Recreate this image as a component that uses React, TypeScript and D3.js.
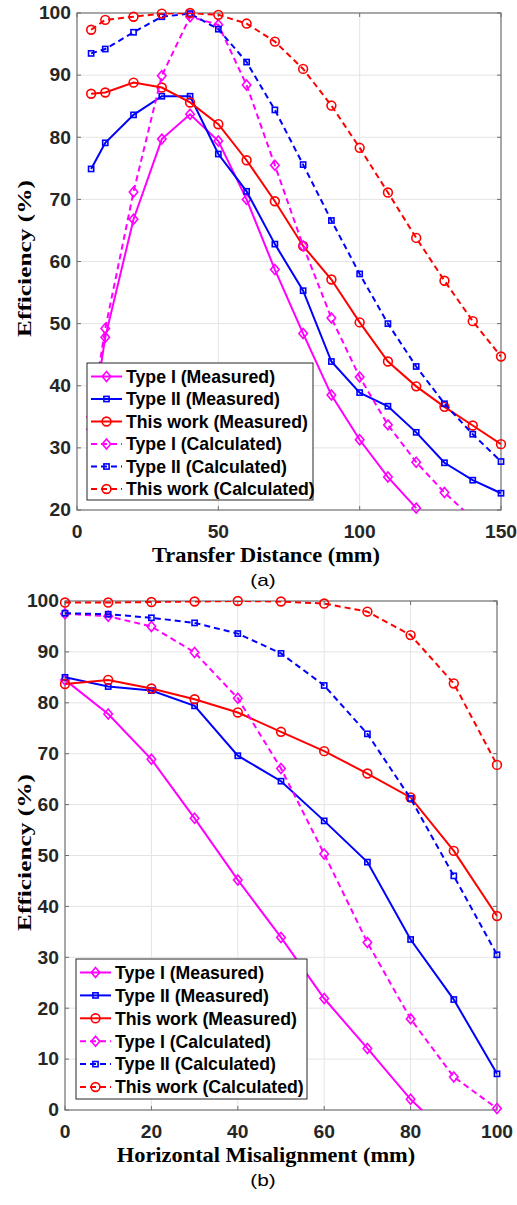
import React from "react";
import * as d3 from "d3";

// ---- chart (a): efficiency vs transfer distance ----
const distX = [5, 10, 20, 30, 40, 50, 60, 70, 80, 90, 100, 110, 120, 130, 140, 150];
const distType1Meas = [33, 47.8, 66.8, 79.7, 83.7, 79.4, 70.0, 58.7, 48.4, 38.5, 31.3, 25.3, 20.3];
const distType2Meas = [74.9, 79.1, 83.6, 86.6, 86.6, 77.3, 71.3, 62.8, 55.3, 43.9, 38.9, 36.7, 32.5, 27.6, 24.8, 22.7];
const distWorkMeas = [87.0, 87.2, 88.8, 88.0, 85.6, 82.1, 76.3, 69.7, 62.5, 57.1, 50.2, 43.9, 39.9, 36.6, 33.6, 30.6];
const distType1Calc = [35, 49.2, 71.2, 89.9, 99.4, 98.1, 88.4, 75.5, 62.5, 50.9, 41.4, 33.7, 27.7, 22.8, 18.6];
const distType2Calc = [93.5, 94.2, 96.9, 99.4, 99.9, 97.4, 92.1, 84.4, 75.6, 66.6, 58.0, 50.0, 43.1, 37.1, 32.2, 27.8];
const distWorkCalc = [97.3, 98.9, 99.4, 99.9, 100, 99.7, 98.3, 95.4, 91.0, 85.1, 78.3, 71.1, 63.8, 56.9, 50.4, 44.7];
const distXTicks = [0, 50, 100, 150];
const distYTicks = [20, 30, 40, 50, 60, 70, 80, 90, 100];

// ---- chart (b): efficiency vs horizontal misalignment ----
const misX = [0, 10, 20, 30, 40, 50, 60, 70, 80, 90, 100];
const misType1Meas = [84.5, 77.8, 68.9, 57.3, 45.2, 33.9, 21.9, 12.1, 2.1, -6];
const misType2Meas = [85.0, 83.2, 82.4, 79.4, 69.6, 64.6, 56.8, 48.7, 33.5, 21.7, 7.1];
const misWorkMeas = [83.7, 84.5, 82.8, 80.7, 78.1, 74.3, 70.5, 66.1, 61.4, 50.9, 38.1];
const misType1Calc = [97.5, 97.0, 95.0, 89.9, 80.9, 67.1, 50.3, 32.9, 17.9, 6.5, 0.3];
const misType2Calc = [97.6, 97.4, 96.7, 95.7, 93.6, 89.7, 83.4, 73.9, 61.2, 46.0, 30.5];
const misWorkCalc = [99.7, 99.7, 99.8, 99.9, 100, 99.9, 99.5, 97.9, 93.3, 83.8, 67.8];
const misXTicks = [0, 20, 40, 60, 80, 100];
const misYTicks = [0, 10, 20, 30, 40, 50, 60, 70, 80, 90, 100];

const seriesNames = [
  "Type I (Measured)",
  "Type II (Measured)",
  "This work (Measured)",
  "Type I (Calculated)",
  "Type II (Calculated)",
  "This work (Calculated)",
];
const seriesColors = ["#ff00ff", "#0000ff", "#ff0000", "#ff00ff", "#0000ff", "#ff0000"];
const seriesMarkers = ["diamond", "square", "circle", "diamond", "square", "circle"];
const seriesDashed = [false, false, false, true, true, true];

const sansFont = "'Liberation Sans', Arial, sans-serif";
const serifFont = "'Liberation Serif', 'Times New Roman', serif";
const axisColor = "#6e6e6e";
const gridColor = "#e4e4e4";
const tickStretch = 1.1; // the figure's text is wider than plain Arial/Times

const Marker = ({ type, x, y, color }) => {
  if (type === "diamond") {
    const r = 5;
    return (
      <path
        d={`M${x},${y - r}L${x + r * 0.85},${y}L${x},${y + r}L${x - r * 0.85},${y}Z`}
        fill="none"
        stroke={color}
        strokeWidth={1.6}
      />
    );
  }
  if (type === "square") {
    const s = 2.6;
    return <rect x={x - s} y={y - s} width={s * 2} height={s * 2} fill="none" stroke={color} strokeWidth={1.6} />;
  }
  return <circle cx={x} cy={y} r={4.4} fill="none" stroke={color} strokeWidth={1.6} />;
};

const Panel = ({ id, box, xDomain, yDomain, xs, series, xTicks, yTicks, xTitle, caption, legend }) => {
  const x = d3.scaleLinear().domain(xDomain).range([box.left, box.right]);
  const y = d3.scaleLinear().domain(yDomain).range([box.bottom, box.top]);
  const line = d3
    .line<number>()
    .x((_, i) => x(xs[i]))
    .y((d) => y(d));
  const midY = (box.top + box.bottom) / 2;

  return (
    <g>
      <defs>
        <clipPath id={id}>
          <rect x={box.left} y={box.top} width={box.right - box.left} height={box.bottom - box.top} />
        </clipPath>
      </defs>
      <rect x={box.left} y={box.top} width={box.right - box.left} height={box.bottom - box.top} fill="#fff" />

      {/* grid */}
      {xTicks.slice(1, -1).map((t) => (
        <line key={"gx" + t} x1={x(t)} x2={x(t)} y1={box.top} y2={box.bottom} stroke={gridColor} />
      ))}
      {yTicks.slice(1, -1).map((t) => (
        <line key={"gy" + t} x1={box.left} x2={box.right} y1={y(t)} y2={y(t)} stroke={gridColor} />
      ))}

      {/* box + inward ticks */}
      <rect
        x={box.left}
        y={box.top}
        width={box.right - box.left}
        height={box.bottom - box.top}
        fill="none"
        stroke={axisColor}
        strokeWidth={1.2}
      />
      {xTicks.map((t) => (
        <g key={"tx" + t}>
          <line x1={x(t)} x2={x(t)} y1={box.bottom} y2={box.bottom - 4} stroke={axisColor} />
          <line x1={x(t)} x2={x(t)} y1={box.top} y2={box.top + 4} stroke={axisColor} />
        </g>
      ))}
      {yTicks.map((t) => (
        <g key={"ty" + t}>
          <line x1={box.left} x2={box.left + 4} y1={y(t)} y2={y(t)} stroke={axisColor} />
          <line x1={box.right} x2={box.right - 4} y1={y(t)} y2={y(t)} stroke={axisColor} />
        </g>
      ))}

      {/* series */}
      {series.map((vals, k) => (
        <g key={"s" + k}>
          <path
            d={line(vals)}
            fill="none"
            stroke={seriesColors[k]}
            strokeWidth={2}
            strokeDasharray={seriesDashed[k] ? "6,4" : undefined}
            clipPath={`url(#${id})`}
          />
          {vals.map((v, i) =>
            v >= yDomain[0] && v <= yDomain[1] ? (
              <Marker key={i} type={seriesMarkers[k]} x={x(xs[i])} y={y(v)} color={seriesColors[k]} />
            ) : null
          )}
        </g>
      ))}

      {/* tick labels */}
      {xTicks.map((t) => (
        <text
          key={"lx" + t}
          transform={`translate(${x(t)},${box.bottom + 28}) scale(${tickStretch},1)`}
          textAnchor="middle"
          fontFamily={sansFont}
          fontWeight="bold"
          fontSize={17.5}
          fill="#262626"
        >
          {t}
        </text>
      ))}
      {yTicks.map((t) => (
        <text
          key={"ly" + t}
          transform={`translate(${box.left - 6},${y(t)}) scale(${tickStretch},1)`}
          dy="0.36em"
          textAnchor="end"
          fontFamily={sansFont}
          fontWeight="bold"
          fontSize={17.5}
          fill="#262626"
        >
          {t}
        </text>
      ))}

      {/* axis titles */}
      <text
        transform={`translate(31,${midY - 3}) rotate(-90) scale(1.3,1)`}
        textAnchor="middle"
        fontFamily={serifFont}
        fontWeight="bold"
        fontSize={19.5}
        fill="#000"
      >
        Efficiency (%)
      </text>
      <text
        transform={`translate(266,${box.bottom + 52}) scale(1.12,1)`}
        textAnchor="middle"
        fontFamily={serifFont}
        fontWeight="bold"
        fontSize={20}
        fill="#000"
      >
        {xTitle}
      </text>
      <text
        transform={`translate(263,${box.bottom + 76}) scale(1.3,1)`}
        textAnchor="middle"
        fontFamily={sansFont}
        fontSize={16}
        fill="#000"
      >
        {caption}
      </text>

      {/* legend */}
      <g>
        <rect
          x={legend.left}
          y={legend.top}
          width={legend.right - legend.left}
          height={legend.bottom - legend.top}
          fill="#fff"
          stroke="#262626"
          strokeWidth={1}
        />
        {seriesNames.map((name, k) => {
          const ry = legend.top + 13.5 + k * legend.step;
          const lx = legend.left + 4;
          return (
            <g key={"lg" + k}>
              <line
                x1={lx}
                x2={lx + 31}
                y1={ry}
                y2={ry}
                stroke={seriesColors[k]}
                strokeWidth={2}
                strokeDasharray={seriesDashed[k] ? "6,4" : undefined}
              />
              <Marker type={seriesMarkers[k]} x={lx + 15.5} y={ry} color={seriesColors[k]} />
              <text
                x={lx + 35}
                y={ry}
                dy="0.36em"
                fontFamily={sansFont}
                fontWeight="bold"
                fontSize={17.7}
                fill="#000"
              >
                {name}
              </text>
            </g>
          );
        })}
      </g>
    </g>
  );
};

export default function App() {
  return (
    <svg
      width={517}
      height={1205}
      style={{ position: "absolute", left: 0, top: 0, background: "#fff" }}
    >
      <rect width={517} height={1205} fill="#fff" />
      <Panel
        id="clipA"
        box={{ left: 77, right: 501, top: 13, bottom: 510 }}
        xDomain={[0, 150]}
        yDomain={[20, 100]}
        xs={distX}
        series={[distType1Meas, distType2Meas, distWorkMeas, distType1Calc, distType2Calc, distWorkCalc]}
        xTicks={distXTicks}
        yTicks={distYTicks}
        xTitle="Transfer Distance (mm)"
        caption="(a)"
        legend={{ left: 87, right: 313, top: 363, bottom: 500, step: 22.5 }}
      />
      <Panel
        id="clipB"
        box={{ left: 65, right: 497, top: 601, bottom: 1110 }}
        xDomain={[0, 100]}
        yDomain={[0, 100]}
        xs={misX}
        series={[misType1Meas, misType2Meas, misWorkMeas, misType1Calc, misType2Calc, misWorkCalc]}
        xTicks={misXTicks}
        yTicks={misYTicks}
        xTitle="Horizontal Misalignment (mm)"
        caption="(b)"
        legend={{ left: 76, right: 307, top: 959, bottom: 1099, step: 22.9 }}
      />
    </svg>
  );
}
